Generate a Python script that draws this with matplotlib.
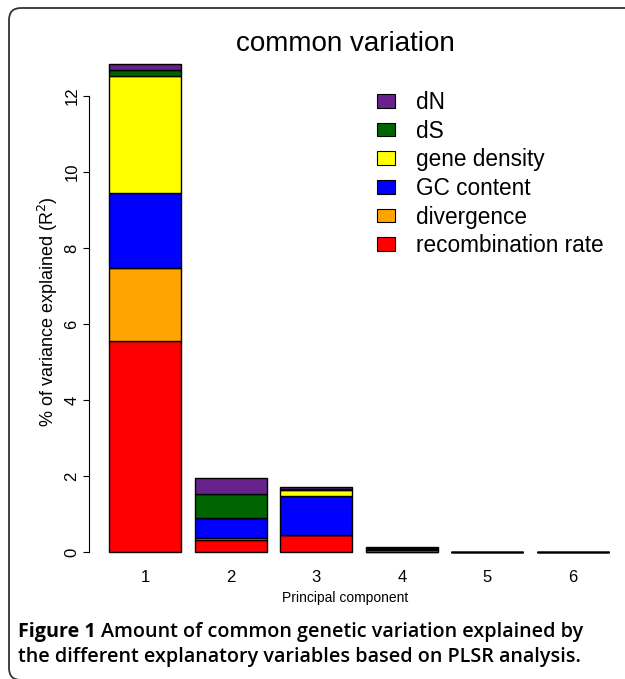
import matplotlib
matplotlib.use("Agg")
import matplotlib.pyplot as plt
from matplotlib.patches import Patch, FancyBboxPatch
from matplotlib.transforms import IdentityTransform

categories = ['1', '2', '3', '4', '5', '6']
recombination_rate = [5.55, 0.32, 0.45, 0.02, 0.005, 0.005]
divergence = [1.92, 0.05, 0.00, 0.03, 0.0, 0.0]
gc_content = [1.98, 0.52, 1.02, 0.01, 0.0, 0.0]
gene_density = [3.08, 0.00, 0.18, 0.03, 0.0, 0.0]
dS = [0.15, 0.63, 0.01, 0.03, 0.0, 0.0]
dN = [0.16, 0.43, 0.05, 0.01, 0.0, 0.0]

series_names = ['recombination rate', 'divergence', 'GC content', 'gene density', 'dS', 'dN']
series_values = [recombination_rate, divergence, gc_content, gene_density, dS, dN]
series_colors = ['#FF0000', '#FFA500', '#0000FF', '#FFFF00', '#006400', '#68228B']
yticks = [0, 2, 4, 6, 8, 10, 12]

plt.rcParams['font.family'] = ['Liberation Sans', 'DejaVu Sans']

W, H = 625, 679
fig = plt.figure(figsize=(W / 100, H / 100), dpi=100)

# axes placement in pixels (from top-left)
ax_left, ax_right, ax_top, ax_bottom = 89.3, 620, 60, 560
ax = fig.add_axes([ax_left / W, 1 - ax_bottom / H, (ax_right - ax_left) / W, (ax_bottom - ax_top) / H])

xpos = list(range(1, len(categories) + 1))
bottoms = [0.0] * len(categories)
for name, vals, col in zip(series_names, series_values, series_colors):
    ax.bar(xpos, vals, width=0.84, bottom=bottoms, color=col, edgecolor='black', linewidth=1.0, label=name)
    bottoms = [b + v for b, v in zip(bottoms, vals)]

px_per_x = 85.6
ax.set_xlim(1 - (145 - ax_left) / px_per_x, 1 + (ax_right - 145) / px_per_x)
px_per_y = (552.3 - 95.7) / 12
ax.set_ylim(-(ax_bottom - 552.3) / px_per_y, 12 + (95.7 - ax_top) / px_per_y)

for s in ['top', 'right', 'bottom']:
    ax.spines[s].set_visible(False)
ax.spines['left'].set_bounds(0, 12)
ax.spines['left'].set_linewidth(0.8)

ax.set_yticks(yticks)
ax.set_yticklabels([str(t) for t in yticks], rotation=90, va='center')
ax.tick_params(axis='y', direction='out', length=4, width=0.8, pad=3, labelsize=12)
ax.set_xticks(xpos)
ax.set_xticklabels(categories)
ax.tick_params(axis='x', length=0, pad=7, labelsize=12)

fig.text(345 / W, 1 - 598 / H, 'Principal component', ha='center', va='center', fontsize=10)

fig.text(48 / W, 1 - 312 / H, '% of variance explained (R$^2$)', rotation=90,
         ha='center', va='center', fontsize=13)

fig.text(345 / W, 1 - 51 / H, 'common variation', ha='center', va='baseline', fontsize=20)

handles = [Patch(facecolor=c, edgecolor='black', linewidth=0.8) for c in series_colors][::-1]
labels = series_names[::-1]
ax.legend(handles, labels, loc='upper left', bbox_to_anchor=(377 / W, 1 - 91 / H),
          bbox_transform=fig.transFigure, frameon=False, fontsize=16.3,
          handlelength=0.78, handleheight=0.55, handletextpad=0.95,
          labelspacing=0.25, borderpad=0, borderaxespad=0)

# caption
cap_font = ['Open Sans', 'DejaVu Sans']
cap_size = 14.2
fig.canvas.draw()
renderer = fig.canvas.get_renderer()
t1 = fig.text(18 / W, 1 - 637 / H, 'Figure 1 ', fontsize=cap_size, fontweight='bold', family=cap_font, va='baseline')
bb = t1.get_window_extent(renderer=renderer)
fig.text(bb.x1 / W, 1 - 637 / H, 'Amount of common genetic variation explained by',
         fontsize=cap_size, fontweight='semibold', family=cap_font, va='baseline')
fig.text(18 / W, 1 - 662 / H, 'the different explanatory variables based on PLSR analysis.',
         fontsize=cap_size, fontweight='semibold', family=cap_font, va='baseline')

# rounded frame (pixel coordinates, origin bottom-left)
frame = FancyBboxPatch((9, -1), 700, H - 8 + 1,
                       boxstyle='round,pad=0,rounding_size=12',
                       transform=IdentityTransform(), facecolor='none', edgecolor='#333333',
                       linewidth=1.3, clip_on=False)
fig.patches.append(frame)

fig.savefig('out.png', dpi=100)
